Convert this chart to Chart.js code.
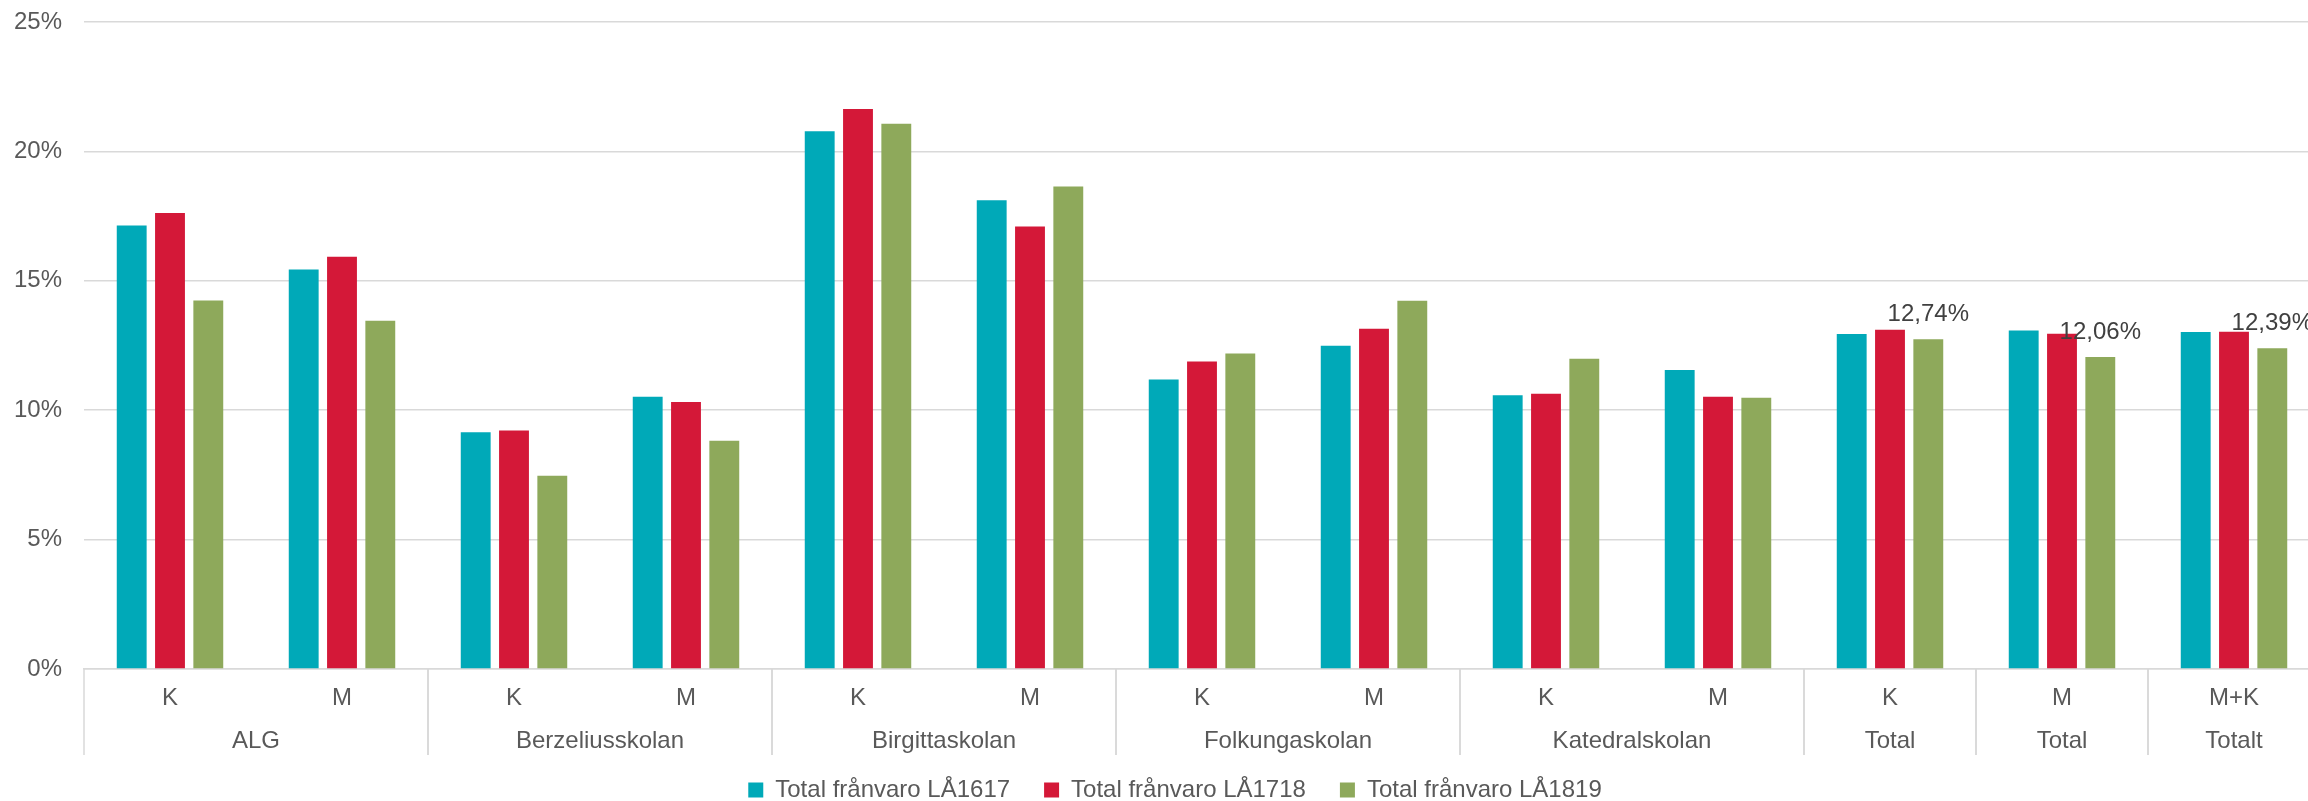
<!DOCTYPE html>
<html>
<head>
<meta charset="utf-8">
<script src="https://cdn.jsdelivr.net/npm/chart.js@4"></script>
<style>
  html, body { margin: 0; padding: 0; background: #fff; overflow: hidden; }
  #wrap { width: 2366px; height: 812px; }
</style>
</head>
<body>
<div id="wrap"><canvas id="chart"></canvas></div>
<script>
// sub labels on the first axis row
const subLabels = ['K', 'M', 'K', 'M', 'K', 'M', 'K', 'M', 'K', 'M', 'K', 'M', 'M+K'];
// second axis row, with how many sub labels each group spans
const groupNames = ['ALG', 'Berzeliusskolan', 'Birgittaskolan', 'Folkungaskolan', 'Katedralskolan', 'Total', 'Total', 'Totalt'];
const groupSizes = [2, 2, 2, 2, 2, 1, 1, 1];

const la1617 = [17.14, 15.44, 9.15, 10.52, 20.78, 18.11, 11.19, 12.49, 10.58, 11.55, 12.94, 13.08, 13.02];
const la1718 = [17.62, 15.93, 9.22, 10.32, 21.64, 17.10, 11.88, 13.15, 10.64, 10.52, 13.11, 12.95, 13.03];
const la1819 = [14.24, 13.46, 7.47, 8.82, 21.07, 18.64, 12.19, 14.23, 11.99, 10.48, 12.74, 12.06, 12.39];

// bars of the last series that carry a value label
const labelledIdx = [10, 11, 12];

const axisGrey = '#d9d9d9';
const textGrey = '#595959';

Chart.defaults.font.family = "'Liberation Sans', Arial, sans-serif";
Chart.defaults.font.size = 24;
Chart.defaults.color = textGrey;

const fmt = v => v.toFixed(2).replace('.', ',') + '%';

const groupAxis = {
  id: 'groupAxis',
  afterDraw(chart) {
    const { ctx, scales: { x } } = chart;
    const half = (x.getPixelForValue(1) - x.getPixelForValue(0)) / 2;
    const top = x.top;
    const bottom = 755;
    ctx.save();
    ctx.strokeStyle = axisGrey;
    ctx.lineWidth = 1.5;
    ctx.fillStyle = textGrey;
    ctx.font = "24px 'Liberation Sans', Arial, sans-serif";
    ctx.textAlign = 'center';
    ctx.textBaseline = 'middle';
    let start = 0;
    groupNames.forEach((name, i) => {
      const end = start + groupSizes[i] - 1;
      const left = x.getPixelForValue(start) - half;
      const right = x.getPixelForValue(end) + half;
      ctx.beginPath();
      ctx.moveTo(left, top);
      ctx.lineTo(left, bottom);
      ctx.moveTo(right, top);
      ctx.lineTo(right, bottom);
      ctx.stroke();
      ctx.fillText(name, (left + right) / 2, 741);
      start = end + 1;
    });
    ctx.restore();
  }
};

const valueLabels = {
  id: 'valueLabels',
  afterDatasetsDraw(chart) {
    const { ctx } = chart;
    const meta = chart.getDatasetMeta(2);
    ctx.save();
    ctx.fillStyle = '#404040';
    ctx.font = "24px 'Liberation Sans', Arial, sans-serif";
    ctx.textAlign = 'center';
    ctx.textBaseline = 'middle';
    labelledIdx.forEach(i => {
      const bar = meta.data[i];
      ctx.fillText(fmt(la1819[i]), bar.x, bar.y - 25);
    });
    ctx.restore();
  }
};

// the legend sits a little right of the plot centre, as in the original
const legendShift = {
  id: 'legendShift',
  afterUpdate(chart) {
    chart.legend.left += 15;
    chart.legend.right += 15;
  }
};

new Chart(document.getElementById('chart'), {
  type: 'bar',
  data: {
    labels: subLabels,
    datasets: [
      { label: 'Total frånvaro LÅ1617', data: la1617, backgroundColor: '#00a9b8' },
      { label: 'Total frånvaro LÅ1718', data: la1718, backgroundColor: '#d41838' },
      { label: 'Total frånvaro LÅ1819', data: la1819, backgroundColor: '#8ea95b' }
    ]
  },
  options: {
    responsive: true,
    maintainAspectRatio: false,
    animation: false,
    datasets: { bar: { categoryPercentage: 0.668, barPercentage: 0.78 } },
    layout: { padding: { left: 0, right: 46, top: 22, bottom: 0 } },
    plugins: {
      tooltip: { enabled: false },
      legend: {
        position: 'bottom',
        labels: { boxWidth: 15, boxHeight: 15, padding: 34, color: textGrey, font: { size: 24 } }
      }
    },
    scales: {
      x: {
        grid: { display: false },
        border: { display: true, color: axisGrey, width: 1.5 },
        ticks: { padding: 7, color: textGrey, font: { size: 24 }, maxRotation: 0 },
        afterFit: s => { s.height = 75; }
      },
      y: {
        min: 0,
        max: 25,
        ticks: { stepSize: 5, padding: 2, color: textGrey, font: { size: 24 }, callback: v => v + '%' },
        grid: { color: axisGrey, lineWidth: 1.5, drawTicks: true, tickLength: 20, tickColor: 'rgba(0,0,0,0)' },
        border: { display: false },
        afterFit: s => { s.width = 84; }
      }
    }
  },
  plugins: [groupAxis, valueLabels, legendShift]
});
</script>
</body>
</html>
